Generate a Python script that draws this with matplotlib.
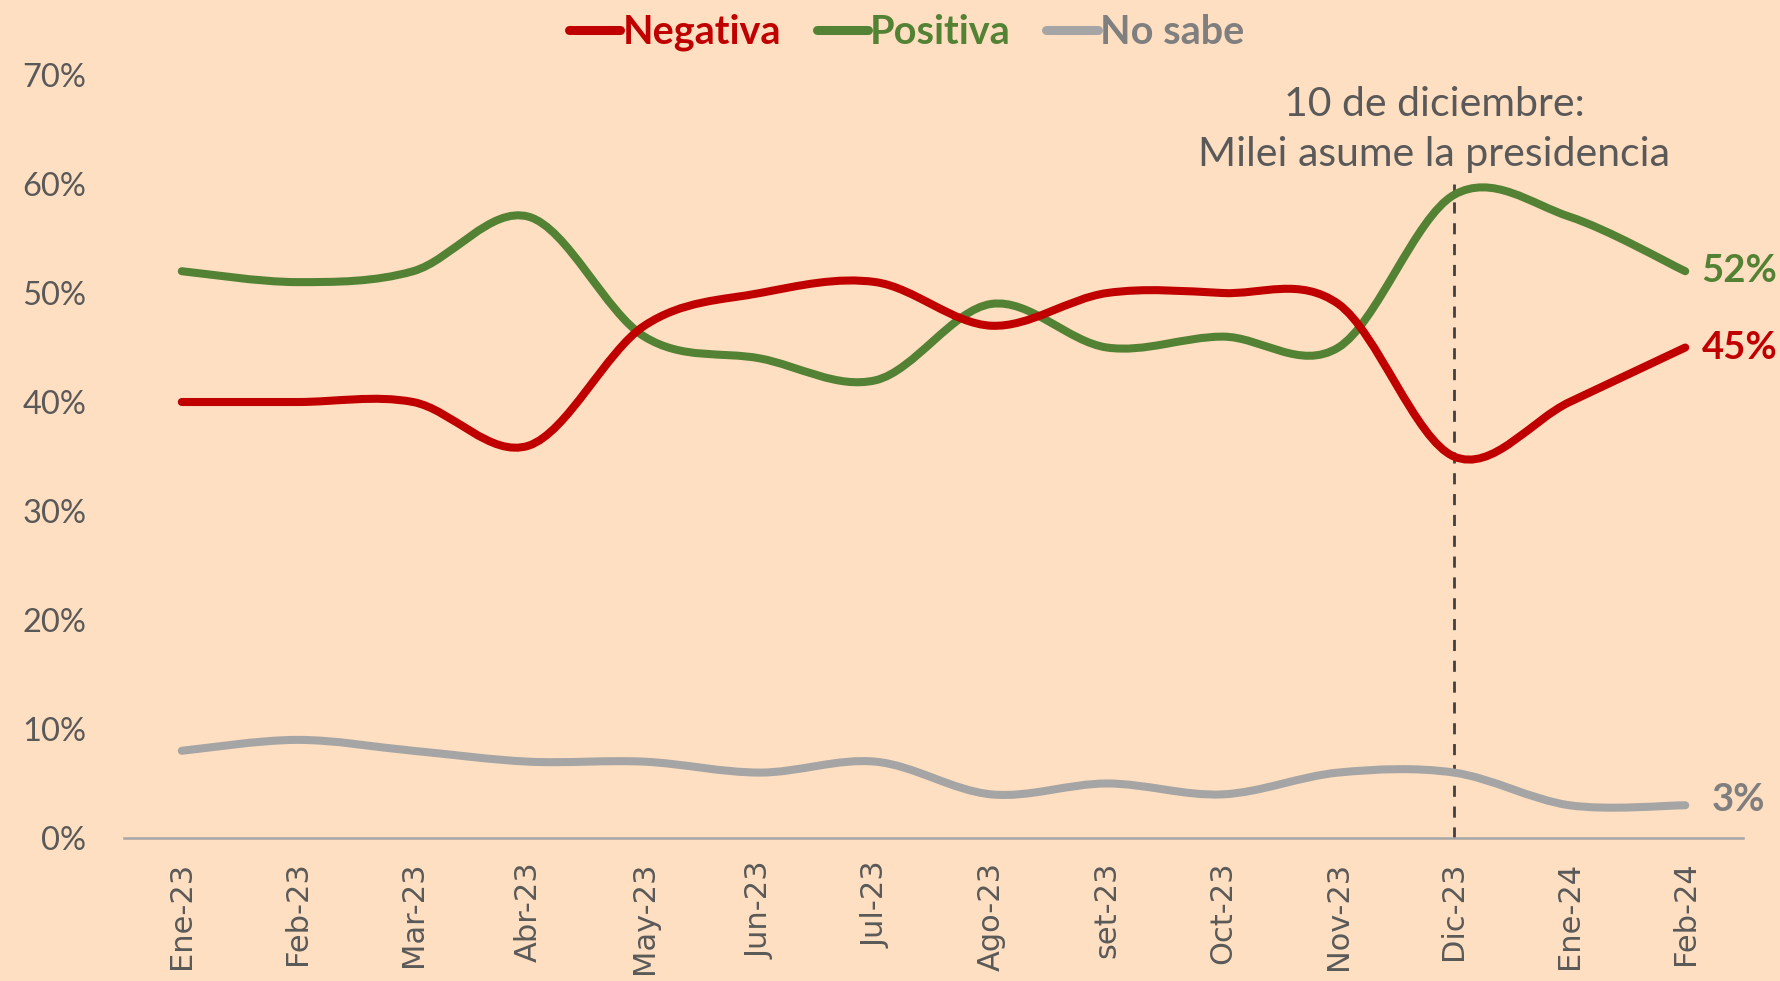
import numpy as np
import matplotlib
matplotlib.use("Agg")
from matplotlib import pyplot as plt
from matplotlib.path import Path
from matplotlib.patches import PathPatch
from matplotlib.lines import Line2D

months = ["Ene-23", "Feb-23", "Mar-23", "Abr-23", "May-23", "Jun-23", "Jul-23",
          "Ago-23", "set-23", "Oct-23", "Nov-23", "Dic-23", "Ene-24", "Feb-24"]
negativa = [40, 40, 40, 36, 47, 50, 51, 47, 50, 50, 49, 35, 40, 45]
positiva = [52, 51, 52, 57, 46, 44, 42, 49, 45, 46, 45, 59, 57, 52]
no_sabe = [8, 9, 8, 7, 7, 6, 7, 4, 5, 4, 6, 6, 3, 3]

bg = "#FFDFC1"
c_neg = "#C00000"
c_pos = "#548235"
c_ns = "#A5A5A5"
c_txt = "#595959"


def smooth_path(x, y):
    # excel style smoothed line: cubic bezier through every point
    pts = np.column_stack([x, y]).astype(float)
    n = len(pts)
    verts = [pts[0]]
    codes = [Path.MOVETO]
    for i in range(n - 1):
        p0 = pts[i - 1] if i > 0 else pts[i]
        p1 = pts[i]
        p2 = pts[i + 1]
        p3 = pts[i + 2] if i + 2 < n else pts[i + 1]
        c1 = p1 + (p2 - p0) / 6.0
        c2 = p2 - (p3 - p1) / 6.0
        verts += [c1, c2, p2]
        codes += [Path.CURVE4] * 3
    return Path(verts, codes)


fig = plt.figure(figsize=(17.81, 9.81), dpi=100, facecolor=bg)
ax = fig.add_axes([0.0696, 0.1458, 0.9091, 0.7777])
ax.set_facecolor(bg)

x = np.arange(len(months))
for vals, col in [(no_sabe, c_ns), (positiva, c_pos), (negativa, c_neg)]:
    ax.add_patch(PathPatch(smooth_path(x, vals), fill=False, edgecolor=col,
                           lw=5.8, capstyle="round", joinstyle="round", zorder=3))

# milei line
ax.plot([11, 11], [0, 60], ls=(0, (4, 3.5)), color="#404040", lw=2, zorder=2)
ax.text(10.83, 65.0, "10 de diciembre:\nMilei asume la presidencia", ha="center", va="center",
        fontsize=29.5, color=c_txt, family="Lato", linespacing=1.42)

ax.text(13.14, positiva[-1], f"{positiva[-1]}%", color=c_pos, fontsize=27.5, weight="bold",
        family="Lato", va="center", ha="left")
ax.text(13.14, negativa[-1], f"{negativa[-1]}%", color=c_neg, fontsize=27.5, weight="bold",
        family="Lato", va="center", ha="left")
ax.text(13.23, no_sabe[-1] + 0.5, f"{no_sabe[-1]}%", color="#7F7F7F", fontsize=27.5, weight="bold",
        family="Lato", va="center", ha="left")

ax.set_xlim(-0.5, len(months) - 0.5)
ax.set_ylim(0, 70)
ax.set_yticks(range(0, 71, 10))
ax.set_yticklabels([f"{v}%" for v in range(0, 71, 10)], family="Lato", fontsize=23.5, color=c_txt)
ax.set_xticks(x)
ax.set_xticklabels(months, rotation=90, fontsize=22, color=c_txt)
ax.tick_params(axis="y", length=0, pad=27)
ax.tick_params(axis="x", length=0, pad=17)
for s in ["top", "right", "left"]:
    ax.spines[s].set_visible(False)
ax.spines["bottom"].set_color("#A6A6A6")
ax.spines["bottom"].set_linewidth(1.8)

handles = [Line2D([], [], color=c, lw=6.5, solid_capstyle="round") for c in (c_neg, c_pos, c_ns)]
leg = fig.legend(handles, ["Negativa", "Positiva", "No sabe"], loc="center",
                 bbox_to_anchor=(0.509, 0.967), ncol=3, frameon=False,
                 handlelength=1.3, handletextpad=0.05, columnspacing=0.9,
                 prop={"family": "Lato", "weight": "bold", "size": 28.5})
for t, c in zip(leg.get_texts(), (c_neg, c_pos, "#7F7F7F")):
    t.set_color(c)

fig.savefig("out.png", dpi=100, facecolor=bg)
